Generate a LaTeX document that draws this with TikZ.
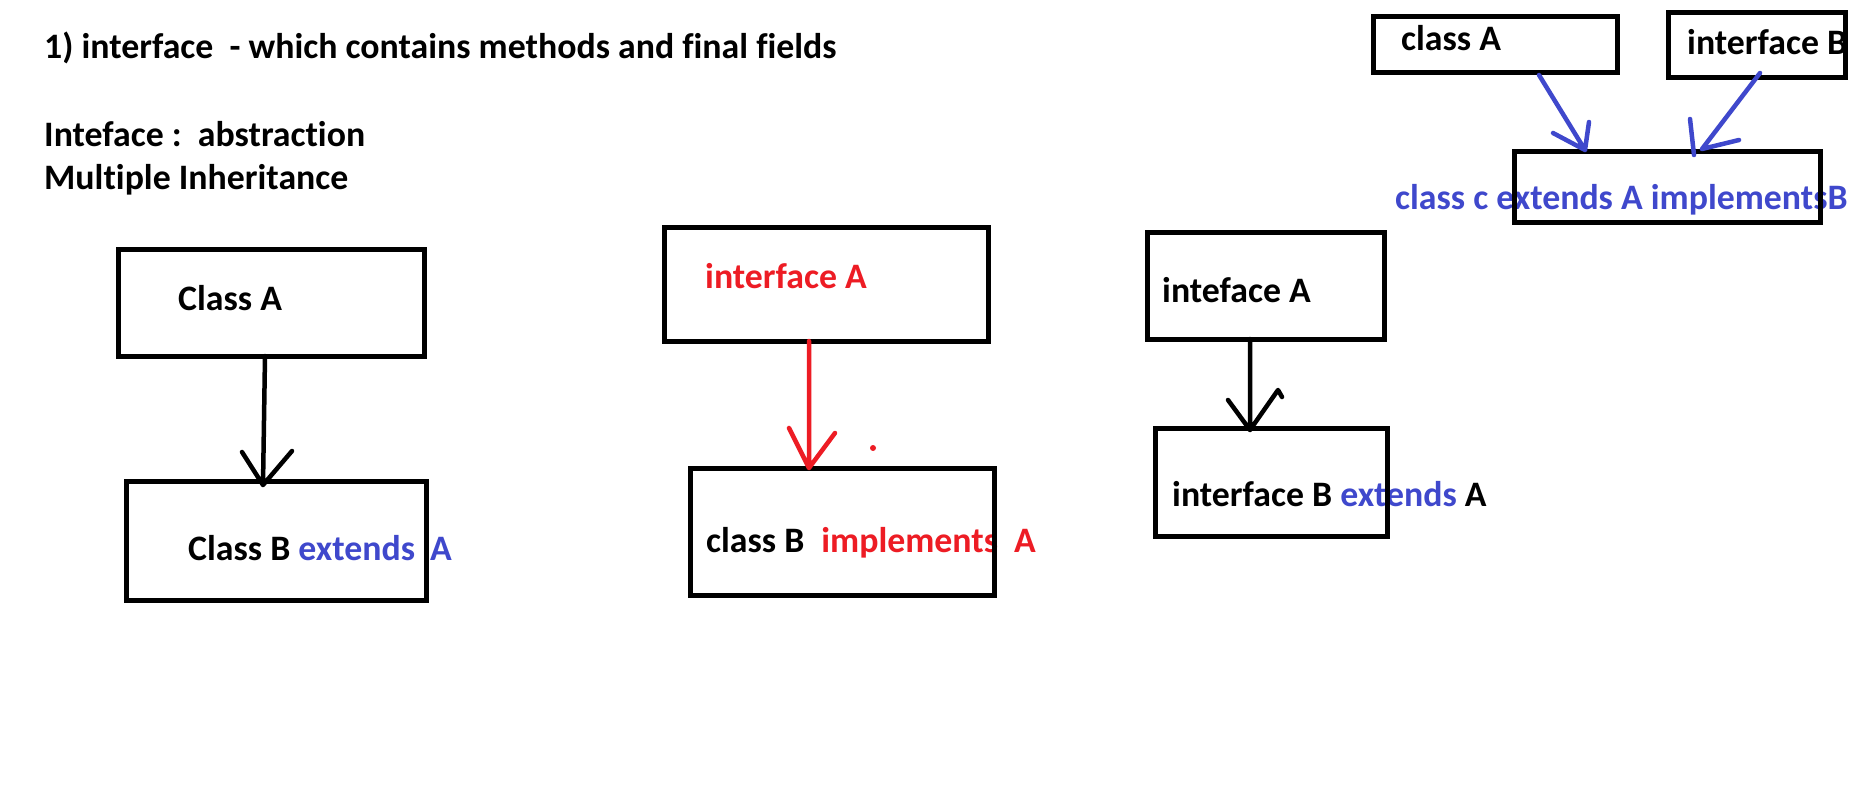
\documentclass[tikz,border=0pt]{standalone}
\usepackage{fontspec}
\setmainfont{Carlito}[Ligatures={NoCommon},RawFeature={-liga;-clig}]
\definecolor{pblue}{HTML}{3F48CC}
\definecolor{pred}{HTML}{ED1C24}
\begin{document}
\begin{tikzpicture}[x=1pt,y=-1pt,
  box/.style={draw=black,line width=5pt,rectangle,inner sep=0pt,fill=none},
  lbl/.style={anchor=base west,inner sep=0pt,font=\fontsize{35.8}{40}\selectfont\bfseries},
  arr/.style={line width=4.5pt,line cap=round,line join=round}]
\useasboundingbox (0,0) rectangle (1855,810);
\fill[white] (0,0) rectangle (1855,810);
% texts
\node[lbl] (title) at (44,59) {1) interface\ \ - which contains methods and final fields};
\node[lbl] (abs) at (44,147) {Inteface :\ \ abstraction};
\node[lbl] (multi) at (44,190) {Multiple Inheritance};
\node[lbl] (tA) at (178,310) {Class A};
\node[lbl] (tB) at (188,560) {Class B \textcolor{pblue}{extends\hspace{15pt}A}};
\node[lbl,text=pred] (tiA) at (705,289) {interface A};
\node[lbl] (tcB) at (706,552) {class B\hspace{17pt}\textcolor{pred}{implements\hspace{16pt}A}};
\node[lbl] (tjA) at (1162,302) {inteface A};
\node[lbl] (tjB) at (1172,506) {interface B \textcolor{pblue}{extends} A};
\node[lbl] (tkA) at (1401,51) {class A};
\node[lbl] (tkB) at (1687,55) {interface B};
\node[lbl,text=pblue] (tkC) at (1395,210) {class c extends A implementsB};
% boxes
\node[box,minimum width=306pt,minimum height=106pt] (bA) at (271,303) {};
\node[box,minimum width=300pt,minimum height=119pt] (bB) at (276,540.5) {};
\node[box,minimum width=324pt,minimum height=113pt] (biA) at (826,284.5) {};
\node[box,minimum width=304pt,minimum height=127pt] (bcB) at (842,531.5) {};
\node[box,minimum width=237pt,minimum height=106pt] (bjA) at (1265.5,286) {};
\node[box,minimum width=232pt,minimum height=108pt] (bjB) at (1271,482) {};
\node[box,minimum width=244pt,minimum height=56pt] (bkA) at (1495,45) {};
\node[box,minimum width=177pt,minimum height=65pt] (bkB) at (1756.5,45.5) {};
\node[box,minimum width=306pt,minimum height=71pt] (bkC) at (1667,187.5) {};
% arrow coordinates
\coordinate (s1) at (265,356); \coordinate (t1) at (263,485);
\coordinate (l1) at (242,452); \coordinate (r1) at (292,451);
\coordinate (s2) at (809,341); \coordinate (t2) at (809,468);
\coordinate (l2) at (789,428); \coordinate (r2) at (835,433);
\coordinate (s3) at (1250,339); \coordinate (t3) at (1250,430);
\coordinate (l3) at (1228,400); \coordinate (r3) at (1278,390); \coordinate (h3) at (1282,397);
\coordinate (s4) at (1539,75); \coordinate (t4) at (1585,150);
\coordinate (l4) at (1553,133); \coordinate (r4) at (1589,122);
\coordinate (s5) at (1760,73); \coordinate (t5) at (1702,149);
\coordinate (l5a) at (1690,119); \coordinate (l5b) at (1694,155); \coordinate (r5) at (1739,140);
% arrows
\draw[arr,black] (s1) -- (t1) (l1) -- (t1) -- (r1);
\draw[arr,pred] (s2) -- (t2) (l2) -- (t2) -- (r2);
\draw[arr,black] (s3) -- (t3) (l3) -- (t3) -- (r3) -- (h3);
\draw[arr,pblue] (s4) -- (t4) (l4) -- (t4) -- (r4);
\draw[arr,pblue] (s5) -- (t5) (l5a) -- (l5b) (r5) -- (t5);
\fill[pred] (873,448) circle (3pt);
\end{tikzpicture}
\end{document}
